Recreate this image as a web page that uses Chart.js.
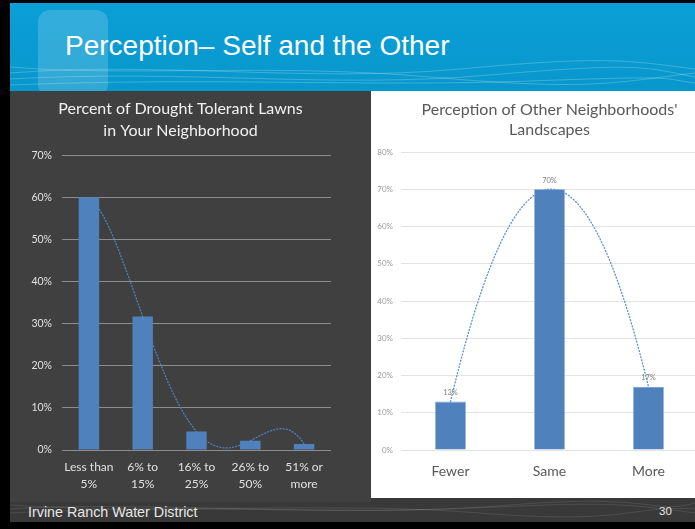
<!DOCTYPE html>
<html lang="en">
<head>
    <meta charset="UTF-8">
    <title>Perception– Self and the Other</title>
    <script src="https://cdn.jsdelivr.net/npm/chart.js"></script>
    <style>
      html, body {
        margin: 0;
        padding: 0;
        background: #000;
        width: 695px;
        height: 529px;
        overflow: hidden;
      }
      .slide {
        position: relative;
        width: 695px;
        height: 529px;
        font-family: "Liberation Sans", Arial, sans-serif;
      }
      .banner {
        position: absolute;
        left: 10px; top: 3px;
        width: 685px; height: 88px;
        background: linear-gradient(#0a9fd6, #0897cc);
        overflow: hidden;
      }
      .banner h1 {
        position: absolute;
        left: 55px; top: 27px;
        margin: 0;
        font-weight: normal;
        font-size: 28px;
        color: #fff;
      }
      .tab {
        position: absolute;
        left: 28px; top: 7px;
        width: 70px; height: 86px;
        border-radius: 12px;
        background: rgba(255, 255, 255, 0.17);
      }
      .footer {
        position: absolute;
        left: 10px; top: 497px;
        width: 685px; height: 25px;
        background: #393939;
        overflow: hidden;
      }
      .footer .name {
        position: absolute;
        left: 18px; top: 7px;
        font-size: 14.3px;
        color: #e6e6e6;
      }
      .footer .num {
        position: absolute;
        left: 649px; top: 8px;
        font-size: 11.5px;
        color: #e6e6e6;
      }
      .waves { position: absolute; left: 0; top: 0; }
      #leftBox {
        position: absolute;
        left: 10px; top: 91px;
        width: 361px; height: 411px;
        background: #404040;
      }
      #rightBox {
        position: absolute;
        left: 371px; top: 91px;
        width: 324px; height: 407px;
        background: #fff;
        overflow: hidden;
      }
      #rightBox .inner { width: 328px; height: 407px; }
    </style>
</head>
<body>
<div class="slide">
  <div class="banner">
    <div class="tab"></div>
    <svg class="waves" width="685" height="88">
      <g fill="none" stroke="rgba(255,255,255,0.22)" stroke-width="1">
        <path d="M0 70 C 150 58, 300 80, 450 66 S 620 58, 685 66"/>
        <path d="M0 76 C 180 66, 320 86, 480 72 S 640 66, 685 74"/>
        <path d="M0 64 C 120 74, 260 60, 420 74 S 600 80, 685 70"/>
        <path d="M0 82 C 200 74, 360 84, 520 78 S 650 76, 685 80"/>
      </g>
    </svg>
    <h1>Perception– Self and the Other</h1>
  </div>

  <div class="footer">
    <svg class="waves" width="685" height="25">
      <g fill="none" stroke="rgba(255,255,255,0.10)" stroke-width="1">
        <path d="M0 8 C 150 18, 320 4, 470 16 S 620 8, 685 12"/>
        <path d="M0 16 C 200 6, 350 20, 500 8 S 640 18, 685 6"/>
        <path d="M0 12 C 120 4, 300 18, 440 12 S 600 4, 685 16"/>
      </g>
    </svg>
    <div class="name">Irvine Ranch Water District</div>
    <div class="num">30</div>
  </div>

  <div id="leftBox"><canvas id="lawnChart" width="361" height="411"></canvas></div>
  <div id="rightBox"><div class="inner"><canvas id="otherChart" width="328" height="407"></canvas></div></div>
</div>

<script>
// survey results, percent of respondents
const lawnCategories = [['Less than', '5%'], ['6% to', '15%'], ['16% to', '25%'], ['26% to', '50%'], ['51% or', 'more']];
const lawnValues = [60, 31.7, 4.4, 2.2, 1.4];
const lawnTicks = [0, 10, 20, 30, 40, 50, 60, 70];

const otherCategories = ['Fewer', 'Same', 'More'];
const otherValues = [13, 70, 17];
const otherTicks = [0, 10, 20, 30, 40, 50, 60, 70, 80];

const BAR_BLUE = '#4f81bd';
const FONT = 'Lato, "Open Sans", sans-serif';

// polynomial trendline of order n-1 through n points (same curve Excel fits)
function polyAt(ys, x) {
    let sum = 0;
    for (let i = 0; i < ys.length; i++) {
        let term = ys[i];
        for (let j = 0; j < ys.length; j++) {
            if (j !== i) term *= (x - j) / (i - j);
        }
        sum += term;
    }
    return sum;
}

const trendline = {
    id: 'trendline',
    beforeDatasetsDraw(chart, args, opts) {
        const ys = chart.data.datasets[0].data;
        const xs = chart.scales.x, yS = chart.scales.y;
        const ctx = chart.ctx;
        ctx.save();
        ctx.beginPath();
        ctx.rect(chart.chartArea.left, chart.chartArea.top - 2, chart.chartArea.width, chart.chartArea.height + 2);
        ctx.clip();
        ctx.strokeStyle = opts.color;
        ctx.lineWidth = 1.3;
        ctx.setLineDash([1, 2.2]);
        ctx.lineCap = 'round';
        ctx.beginPath();
        const steps = 200;
        for (let k = 0; k <= steps; k++) {
            const x = (ys.length - 1) * k / steps;
            const px = xs.getPixelForValue(x);
            const py = yS.getPixelForValue(polyAt(ys, x));
            if (k === 0) ctx.moveTo(px, py); else ctx.lineTo(px, py);
        }
        ctx.stroke();
        ctx.restore();
    }
};

const valueLabels = {
    id: 'valueLabels',
    afterDatasetsDraw(chart, args, opts) {
        if (!opts.show) return;
        const ctx = chart.ctx;
        const meta = chart.getDatasetMeta(0);
        ctx.save();
        ctx.font = '7.5px ' + FONT;
        ctx.fillStyle = '#7f7f7f';
        ctx.textAlign = 'center';
        ctx.textBaseline = 'middle';
        meta.data.forEach((bar, i) => {
            ctx.fillText(chart.data.datasets[0].data[i] + '%', bar.x, bar.y - 9);
        });
        ctx.restore();
    }
};

Chart.register(trendline, valueLabels);

new Chart(document.getElementById('lawnChart'), {
    type: 'bar',
    data: {
        labels: lawnCategories,
        datasets: [{
            data: lawnValues,
            backgroundColor: BAR_BLUE,
            categoryPercentage: 0.38,
            barPercentage: 1
        }]
    },
    options: {
        responsive: false,
        animation: false,
        layout: { padding: { left: 20, right: 40, top: 0, bottom: 0 } },
        plugins: {
            legend: { display: false },
            tooltip: { enabled: false },
            title: {
                display: true,
                text: ['Percent of Drought Tolerant Lawns', 'in Your Neighborhood'],
                color: '#f0f0f0',
                font: { family: FONT, size: 16, weight: 'normal', lineHeight: 1.35 },
                padding: { top: 7, bottom: 14 }
            },
            trendline: { color: '#4f81bd' },
            valueLabels: { show: false }
        },
        scales: {
            x: {
                grid: { display: false, drawTicks: false },
                border: { display: false },
                ticks: {
                    color: '#e0e0e0',
                    padding: 9,
                    maxRotation: 0,
                    autoSkip: false,
                    font: { family: FONT, size: 12, lineHeight: 1.4 }
                },
                afterFit(scale) { scale.height = 52; }
            },
            y: {
                min: lawnTicks[0],
                max: lawnTicks[lawnTicks.length - 1],
                afterBuildTicks(scale) { scale.ticks = lawnTicks.map(v => ({ value: v })); },
                grid: { color: '#8c8c8c', lineWidth: 1, drawTicks: false },
                border: { display: false },
                ticks: {
                    color: '#e0e0e0',
                    padding: 10,
                    font: { family: FONT, size: 10.5 },
                    callback: v => v + '%'
                },
                afterFit(scale) { scale.width = 32; }
            }
        }
    }
});

new Chart(document.getElementById('otherChart'), {
    type: 'bar',
    data: {
        labels: otherCategories,
        datasets: [{
            data: otherValues,
            backgroundColor: BAR_BLUE,
            borderColor: '#6c98cc',
            borderWidth: 0.8,
            categoryPercentage: 0.31,
            barPercentage: 1
        }]
    },
    options: {
        responsive: false,
        animation: false,
        layout: { padding: { left: 4, right: 1, top: 0, bottom: 0 } },
        plugins: {
            legend: { display: false },
            tooltip: { enabled: false },
            title: {
                display: true,
                fullSize: false,
                text: ["Perception of Other Neighborhoods'", 'Landscapes'],
                color: '#595959',
                font: { family: FONT, size: 16, weight: 'normal', lineHeight: 1.25 },
                padding: { top: 9, bottom: 12 }
            },
            trendline: { color: '#5b8fd0' },
            valueLabels: { show: true }
        },
        scales: {
            x: {
                grid: { display: false, drawTicks: false },
                border: { display: false },
                ticks: {
                    color: '#595959',
                    padding: 13,
                    font: { family: FONT, size: 14 }
                },
                afterFit(scale) { scale.height = 48; }
            },
            y: {
                min: otherTicks[0],
                max: otherTicks[otherTicks.length - 1],
                afterBuildTicks(scale) { scale.ticks = otherTicks.map(v => ({ value: v })); },
                grid: { color: '#e3e3e3', lineWidth: 1, drawTicks: false },
                border: { display: false },
                ticks: {
                    color: '#9a9a9a',
                    padding: 8,
                    font: { family: FONT, size: 8 },
                    callback: v => v + '%'
                },
                afterFit(scale) { scale.width = 26; }
            }
        }
    }
});
</script>
</body>
</html>
